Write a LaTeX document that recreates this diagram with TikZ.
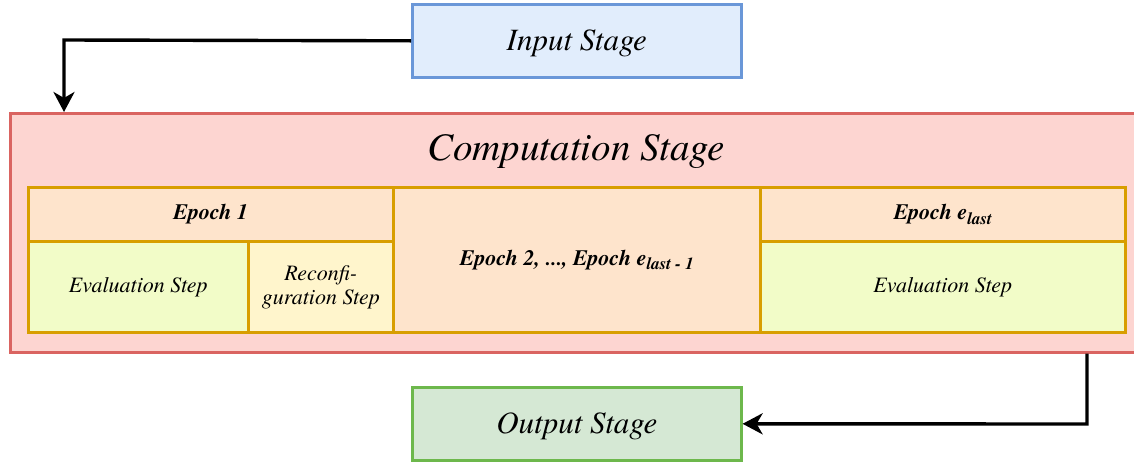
\documentclass[tikz,border=0pt]{standalone}
\usepackage{fontspec}
\newfontfamily\timesfont{TeX Gyre Termes}
\usetikzlibrary{arrows.meta}
\definecolor{inFill}{HTML}{E1EDFC}
\definecolor{inLine}{HTML}{6A97D8}
\definecolor{compFill}{HTML}{FDD5D1}
\definecolor{compLine}{HTML}{DA6461}
\definecolor{epFill}{HTML}{FEE4CC}
\definecolor{epLine}{HTML}{D89E00}
\definecolor{evalFill}{HTML}{F2FCC8}
\definecolor{recFill}{HTML}{FFF5CC}
\definecolor{outFill}{HTML}{D5E8D4}
\definecolor{outLine}{HTML}{6DB84C}
\newcommand{\lowsub}[1]{\raisebox{-0.45ex}{\fontsize{17}{19}\selectfont #1}}
\tikzset{
  stage/.style={draw, line width=2.6pt, inner sep=0pt, anchor=north west},
  stagetext/.style={font=\timesfont\fontsize{31}{36}\selectfont\itshape, yshift=-3pt},
  cell/.style={draw=epLine, line width=2.6pt, inner sep=0pt, anchor=north west, align=center, font=\timesfont\fontsize{22}{24}\selectfont\itshape},
  boldcell/.style={cell, font=\timesfont\fontsize{22}{24}\selectfont\bfseries\itshape},
  flow/.style={line width=3.4pt, -{Stealth[width=21pt,length=20pt,inset=6pt]}}
}
\begin{document}
\begin{tikzpicture}[x=1pt,y=-1pt]
\useasboundingbox (0,0) rectangle (1134,461);
\clip (0,0) rectangle (1134,461);
% stages
\node[stage, draw=inLine, fill=inFill, minimum width=329pt, minimum height=73pt,
      label={[stagetext]center:Input Stage}] (input) at (411,3) {};
\node[stage, draw=compLine, fill=compFill, minimum width=1140pt, minimum height=239pt] (comp) at (9,112) {};
\node[font=\timesfont\fontsize{39}{45}\selectfont\itshape] (ctitle) at (576,152) {Computation Stage};
\node[stage, draw=outLine, fill=outFill, minimum width=329pt, minimum height=73pt,
      label={[stagetext]center:Output Stage}] (output) at (411,386) {};
% epochs
\node[boldcell, fill=epFill, minimum width=365pt, minimum height=54pt] (e1) at (27,186) {Epoch 1};
\node[cell, fill=evalFill, minimum width=220pt, minimum height=91pt] (ev1) at (27,240) {Evaluation Step};
\node[cell, fill=recFill, minimum width=145pt, minimum height=91pt] (rc1) at (247,240) {Reconfi-\\guration Step};
\node[boldcell, fill=epFill, minimum width=367pt, minimum height=145pt] (emid) at (392,186) {Epoch 2, ..., Epoch e\lowsub{last - 1}};
\node[boldcell, fill=epFill, minimum width=365pt, minimum height=54pt] (elast) at (759,186) {Epoch e\lowsub{last}};
\node[cell, fill=evalFill, minimum width=365pt, minimum height=91pt] (evl) at (759,240) {Evaluation Step};
% connectors
\coordinate (c1) at (64,40);
\coordinate (c2) at (1087,424);
\draw[flow] (input.west) -- (c1) -- (c1 |- comp.north);
\draw[flow] (c2 |- comp.south) -- (c2) -- (output.east);
\end{tikzpicture}
\end{document}
